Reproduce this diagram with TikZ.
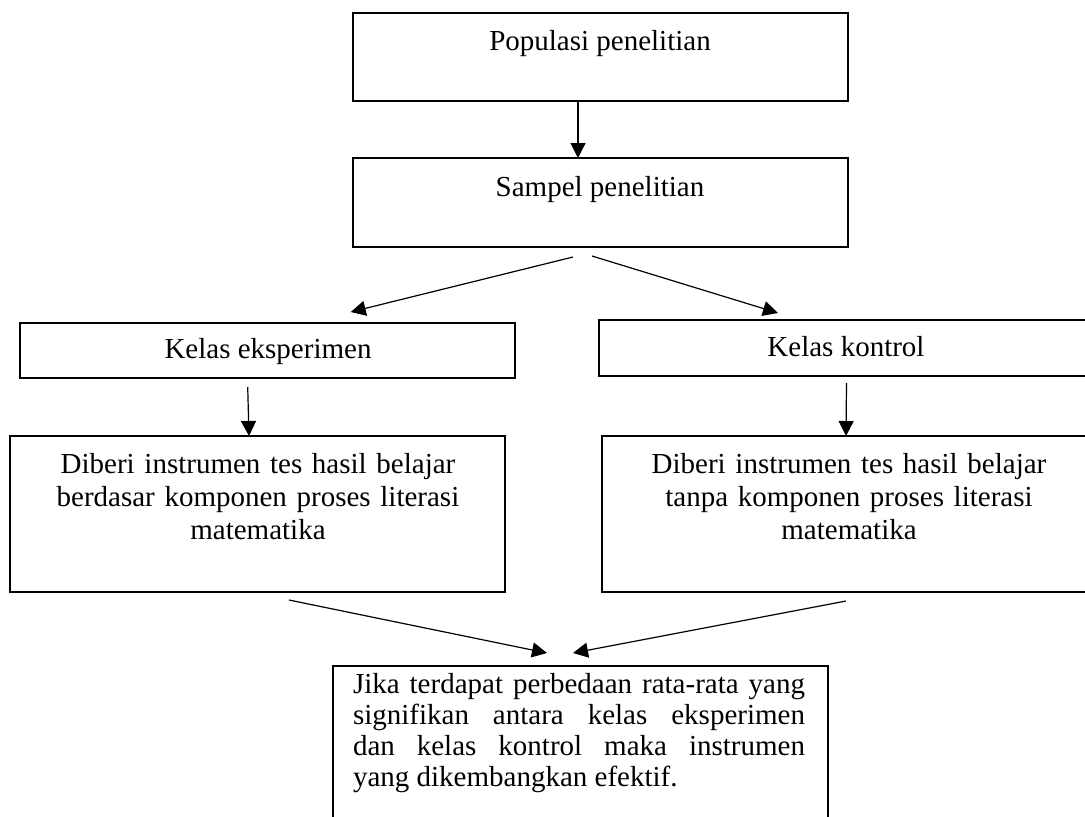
\documentclass[tikz,border=0pt]{standalone}
\usepackage{fontspec}
\setmainfont{Liberation Serif}
\usetikzlibrary{arrows.meta, positioning}
\tikzset{
  every picture/.style={line width=0.9pt},
  box/.style={draw=black, anchor=north west, inner sep=0pt, outer sep=0pt, minimum width=247.5pt},
  txt/.style={anchor=base, inner sep=0pt, font=\fontsize{14.5}{16.5}\selectfont},
  arrow/.style={-{Triangle[length=7.5pt, width=7.5pt]}, line width=0.6pt},
}
\begin{document}
\begin{tikzpicture}[x=0.5pt, y=-0.5pt]
  \clip (0,0) rectangle (1085,816);
  % population and sample
  \node[box, minimum height=44pt] (pop) at (353,13) {};
  \node[txt] (popt) at (600,50) {Populasi penelitian};
  \node[box, minimum height=44.5pt] (smp) at (353,158) {};
  \node[txt] (smpt) at (600,196) {Sampel penelitian};
  % the two classes
  \node[box, minimum height=27.5pt] (eks) at (20,323) {};
  \node[txt] (ekst) at (268,358) {Kelas eksperimen};
  \node[box, minimum height=28pt] (kon) at (599,320) {};
  \node[txt] (kont) at (846,356) {Kelas kontrol};
  % instruments
  \node[box, minimum height=78pt] (eksins) at (10,436) {};
  \node[txt, text width=240pt, align=center] (eksinst) at (258,473) {Diberi instrumen tes hasil belajar\\berdasar komponen proses literasi\\matematika};
  \node[box, minimum height=78pt] (konins) at (602,436) {};
  \node[txt, text width=240pt, align=center] (koninst) at (849,473) {Diberi instrumen tes hasil belajar\\tanpa komponen proses literasi\\matematika};
  % conclusion
  \node[box, minimum height=82pt] (hasil) at (333,666) {};
  \node[txt, text width=226pt, align=justify, font=\fontsize{14.5}{15.5}\selectfont] (hasilt) at (579,693) {Jika terdapat perbedaan rata-rata yang\linebreak signifikan antara kelas eksperimen\linebreak dan kelas kontrol maka instrumen\linebreak yang dikembangkan efektif.};
  % arrows
  \draw[arrow] ([xshift=-11.25pt]pop.south) -- ([xshift=-11.25pt]smp.north);
  \draw[arrow] ([xshift=-13.75pt, yshift=-5pt]smp.south) -- ([xshift=41.6pt, yshift=5.5pt]eks.north);
  \draw[arrow] ([xshift=-4.25pt, yshift=-4.5pt]smp.south) -- ([xshift=-34.25pt, yshift=3.5pt]kon.north);
  \draw[arrow] ([xshift=-9.9pt, yshift=-4.5pt]eks.south) -- ([xshift=-4.25pt]eksins.north);
  \draw[arrow] ([yshift=-3.5pt]kon.south) -- ([xshift=-1.75pt]konins.north);
  \draw[arrow] ([xshift=15.75pt, yshift=-4pt]eksins.south) -- ([xshift=-16.75pt, yshift=6.5pt]hasil.north);
  \draw[arrow] ([xshift=-1.75pt, yshift=-4.5pt]konins.south) -- ([xshift=-3.75pt, yshift=6.5pt]hasil.north);
\end{tikzpicture}
\end{document}
